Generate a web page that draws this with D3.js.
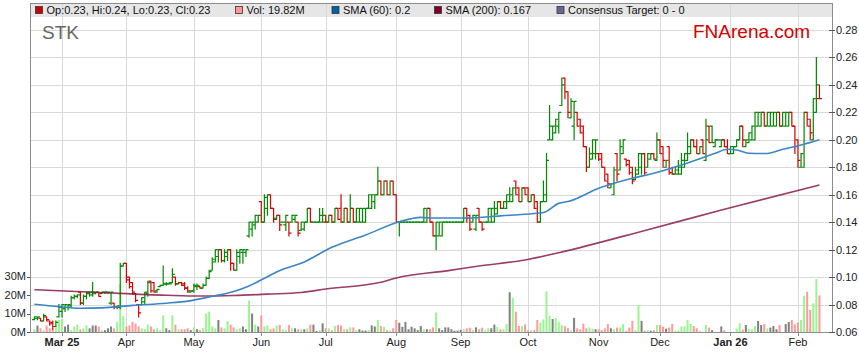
<!DOCTYPE html>
<html>
<head>
<meta charset="utf-8">
<script src="https://cdn.jsdelivr.net/npm/d3@7"></script>
<style>
body { margin: 0; background: #fff; }
text { font-family: "Liberation Sans", Arial, sans-serif; }
</style>
</head>
<body>
<div id="chart"></div>
<script>
// daily bars, first bar is Tue 18 Feb 2025, weekdays only
const opens = [
.069,.070,.070,.068,.071,.068,.067,.064,.071,.075,
.077,.078,.079,.085,.086,.089,.081,.086,.088,.087,
.088,.089,.088,.089,.089,.081,.081,.078,.078,.108,
.110,.100,.096,.088,.080,.080,.082,.088,.097,.096,
.090,.093,.094,.095,.095,.096,.100,.095,.096,.095,
.092,.089,.090,.093,.093,.092,.094,.099,.105,.111,
.115,.120,.112,.115,.120,.110,.105,.115,.118,.118,
.130,.135,.138,.140,.155,.140,.150,.160,.150,.143,
.145,.140,.138,.140,.140,.142,.140,.134,.135,.140,
.150,.140,.140,.140,.140,.140,.140,.145,.140,.150,
.150,.140,.150,.140,.150,.140,.140,.140,.140,.150,
.150,.155,.160,.170,.160,.170,.160,.170,.160,.140,
.140,.140,.140,.140,.140,.140,.140,.140,.140,.150,
.140,.130,.130,.130,.140,.140,.140,.140,.140,.140,
.140,.150,.145,.140,.135,.150,.140,.140,.140,.140,
.140,.146,.155,.150,.150,.155,.155,.170,.165,.155,
.165,.165,.155,.160,.155,.140,.155,.155,.200,.200,
.205,.210,.225,.245,.235,.216,.210,.220,.215,.210,
.195,.180,.186,.190,.190,.190,.180,.175,.165,.160,
.190,.178,.190,.186,.185,.180,.171,.175,.180,.190,
.180,.186,.190,.185,.200,.195,.180,.195,.176,.175,
.175,.175,.180,.185,.190,.200,.195,.190,.200,.185,
.210,.210,.195,.200,.195,.200,.195,.190,.190,.195,
.200,.210,.195,.198,.200,.200,.210,.210,.220,.210,
.210,.210,.210,.220,.210,.210,.210,.220,.210,.200,
.180,.180,.220,.210,.200,.220,.230]

const highs = [
.071,.071,.070,.073,.071,.068,.068,.068,.080,.080,
.080,.080,.086,.087,.087,.089,.087,.089,.089,.096,
.089,.089,.089,.089,.089,.089,.081,.079,.110,.110,
.110,.100,.096,.088,.080,.085,.089,.097,.097,.096,
.091,.094,.108,.096,.096,.106,.100,.096,.096,.096,
.093,.090,.095,.095,.093,.095,.100,.105,.114,.120,
.120,.120,.120,.120,.120,.110,.120,.120,.120,.120,
.140,.140,.145,.145,.155,.160,.160,.160,.150,.145,
.145,.140,.145,.140,.145,.145,.140,.140,.140,.150,
.150,.140,.140,.150,.150,.145,.145,.145,.150,.150,
.160,.150,.150,.160,.150,.150,.150,.150,.150,.160,
.160,.160,.180,.170,.170,.170,.170,.170,.160,.140,
.140,.140,.140,.140,.140,.140,.140,.150,.150,.150,
.140,.140,.140,.140,.140,.140,.140,.140,.140,.140,
.150,.150,.145,.145,.145,.150,.140,.140,.150,.150,
.155,.155,.155,.155,.160,.165,.165,.170,.165,.165,
.165,.165,.160,.160,.155,.155,.170,.190,.225,.210,
.215,.220,.245,.245,.235,.230,.228,.220,.215,.210,
.195,.194,.200,.200,.190,.190,.180,.175,.168,.180,
.190,.200,.200,.186,.185,.180,.180,.190,.190,.190,
.190,.190,.190,.205,.200,.195,.185,.195,.180,.180,
.185,.190,.190,.205,.200,.200,.200,.195,.200,.215,
.210,.210,.200,.200,.200,.200,.200,.195,.195,.200,
.210,.210,.200,.205,.210,.220,.220,.220,.220,.220,
.220,.220,.220,.220,.220,.220,.220,.220,.210,.200,
.190,.220,.220,.215,.230,.260,.240]

const lows = [
.069,.069,.068,.068,.068,.065,.062,.064,.071,.071,
.075,.076,.078,.084,.085,.080,.080,.084,.086,.086,
.088,.086,.088,.088,.088,.080,.077,.077,.077,.108,
.096,.092,.088,.082,.071,.080,.080,.086,.089,.089,
.089,.093,.094,.094,.095,.096,.094,.095,.094,.091,
.089,.089,.089,.091,.092,.092,.094,.099,.105,.111,
.111,.111,.111,.112,.105,.105,.105,.110,.110,.115,
.129,.130,.135,.140,.140,.140,.145,.150,.140,.142,
.134,.140,.134,.130,.140,.140,.130,.134,.134,.140,
.140,.140,.140,.140,.140,.140,.140,.140,.140,.142,
.140,.140,.140,.140,.140,.140,.140,.140,.140,.150,
.150,.150,.160,.160,.160,.160,.160,.160,.140,.130,
.140,.140,.140,.140,.140,.140,.140,.140,.140,.140,
.130,.120,.130,.130,.140,.140,.140,.140,.140,.140,
.140,.140,.134,.140,.134,.140,.134,.140,.140,.140,
.140,.146,.150,.150,.150,.155,.155,.160,.155,.155,
.160,.155,.155,.150,.140,.140,.155,.155,.200,.200,
.205,.205,.225,.230,.216,.216,.200,.210,.205,.195,
.177,.180,.186,.186,.185,.180,.170,.165,.165,.160,
.170,.178,.190,.181,.175,.168,.171,.175,.175,.175,
.180,.186,.186,.185,.190,.180,.180,.175,.175,.175,
.175,.175,.180,.185,.190,.195,.190,.190,.190,.185,
.198,.198,.195,.200,.195,.195,.190,.190,.190,.195,
.200,.195,.195,.198,.200,.200,.210,.210,.210,.210,
.210,.210,.210,.210,.210,.210,.210,.210,.190,.180,
.180,.180,.210,.200,.200,.220,.230]

const closes = [
.071,.071,.068,.072,.069,.066,.064,.067,.078,.080,
.080,.080,.085,.086,.087,.081,.086,.089,.089,.089,
.089,.086,.089,.089,.089,.089,.078,.079,.108,.110,
.098,.093,.089,.083,.074,.085,.089,.096,.090,.089,
.091,.094,.095,.095,.095,.102,.095,.096,.094,.092,
.090,.090,.094,.094,.092,.094,.099,.104,.113,.120,
.120,.112,.118,.120,.110,.105,.118,.120,.120,.120,
.140,.140,.145,.145,.140,.158,.160,.150,.142,.145,
.138,.140,.145,.132,.145,.145,.132,.140,.140,.150,
.140,.140,.140,.145,.145,.140,.145,.140,.150,.142,
.140,.150,.140,.150,.140,.150,.150,.150,.150,.160,
.160,.160,.170,.160,.170,.160,.170,.160,.140,.140,
.140,.140,.140,.140,.140,.140,.140,.150,.150,.140,
.130,.140,.140,.140,.140,.140,.140,.140,.140,.140,
.150,.143,.135,.145,.145,.140,.135,.140,.150,.150,
.150,.155,.150,.155,.160,.160,.165,.160,.155,.165,
.160,.155,.160,.150,.140,.155,.160,.185,.210,.210,
.215,.220,.240,.235,.220,.228,.228,.210,.205,.195,
.180,.190,.200,.200,.186,.180,.170,.168,.168,.178,
.175,.195,.200,.182,.176,.170,.178,.190,.190,.176,
.190,.190,.186,.200,.190,.185,.185,.176,.175,.178,
.180,.185,.190,.195,.200,.195,.190,.195,.190,.200,
.198,.198,.200,.200,.200,.195,.190,.195,.195,.200,
.210,.200,.200,.205,.210,.220,.220,.220,.210,.220,
.220,.220,.220,.210,.220,.220,.220,.210,.195,.185,
.190,.220,.215,.205,.230,.240,.230]

// volume in millions
const volumes = [
1.5,3.5,2,1,3.5,2,1.5,3,6.5,7,
3,4,1,3,4,1.5,2,3.5,2,3.5,
3.5,3,1,1,2,3,2,5.5,26,8.5,
3,3.5,5.5,4.5,3,2,1.5,4,3,1.5,
2,1,9,2,1,9,4,1.5,1.5,1.5,
2,1,2.5,1.5,1,2,10,11,3,2,
6.5,2.5,2,6,4,2.5,1.5,2,3,1.5,
17,10,4,3,9,3,3.5,1.5,2,3.5,
3.8,1.5,1,3.8,2,2,1.5,1.5,1.5,2,
4,4,0.5,1,4.7,2,2,1,3.2,3.8,
3.5,1.6,1.5,2.5,2.5,1,1.5,0.8,0.8,1.1,
3.6,3,6.5,3.2,2.8,1,0.8,2,6.5,5,
2.8,5.4,1.5,2.8,2,1,3.2,1.5,1.5,1.5,
2.5,10.5,2,1,2.5,2.5,1.5,0.7,0.8,1.2,
1.5,2,2.3,1.1,2.5,1.5,2.3,1,2,2,
4,2.8,1.5,1.5,4.3,21.5,18.5,11,3.2,3.2,
4.1,1,1,1,6.5,5,6.8,22,8.6,7,
7.5,5.5,3.8,3.2,2,1,7.7,2,1.5,4.5,
2,2.4,1.8,1.5,1.5,1,2,4.3,2,1.5,
2.4,2.4,4.3,0.5,2.4,6,1,14.6,6,0.7,
1,0.7,1,3.8,3.8,2.9,1.8,2.4,4.3,0.7,
0.7,3,3,6.5,4.3,3.2,2,0.7,0,3.8,
2.4,1,0,0,3,1,0,0,0,1.8,
4.7,1.3,3.8,1.7,1.5,3.2,6,3.8,4.3,2,
2.4,3.2,1.5,3.8,0,4.3,5.4,6.5,4.1,5.2,
6.5,19.6,21.8,11.9,15.5,28.6,19.82]

// moving averages, [bar index, value]
const sma60Idx = [0,8,15,22,32,43,50,58,65,70,76,81,87,97,108,119,126,130,141,152,163,166,171,174,184,195,201,211,222,226,229,233,239,244,250,256]
const sma60Val = [.0802,.0785,.0773,.0776,.0794,.081,.0825,.086,.0895,.0935,.1003,.1057,.11,.1217,.1307,.1403,.1435,.143,.143,.1446,.1463,.147,.1537,.155,.1647,.172,.1751,.1817,.1902,.1931,.1926,.1902,.19,.1931,.1962,.20]
const sma200Idx = [0,21,43,54,65,76,87,95,113,118,135,145,160,171,200,225,256]
const sma200Val = [.0908,.0888,.0868,.0862,.0866,.0876,.0888,.0913,.0962,.0994,.1047,.1081,.1125,.1178,.1345,.1494,.1671]

const priceTicks = [0.06,0.08,0.10,0.12,0.14,0.16,0.18,0.20,0.22,0.24,0.26,0.28]
const volTicks = [0,10,20,30]
const volLabels = ["0M","10M","20M","30M"]
const monthLabels = ["Mar 25","Apr","May","Jun","Jul","Aug","Sep","Oct","Nov","Dec","Jan 26","Feb"]

let W = 859, H = 363
let plotL = 30, plotR = 832, plotT = 3, plotB = 332

let svg = d3.select("#chart").append("svg")
svg.attr("width", W)
svg.attr("height", H)

let x = d3.scaleLinear().domain([-1.43, 260.1]).range([plotL, plotR])
let y = d3.scaleLinear().domain([0.06, 0.28]).range([plotB, 30])
let yv = d3.scaleLinear().domain([0, 30]).range([plotB, plotB - 55.5])

// trading days (weekdays) to find the month boundaries
let dates = []
let d = new Date(2025, 1, 18)
while (dates.length < closes.length) {
  if (d.getDay() != 0 && d.getDay() != 6) dates.push(new Date(d))
  d.setDate(d.getDate() + 1)
}
let monthStarts = []
dates.forEach(function (dt, i) {
  if (i > 0 && dt.getMonth() != dates[i - 1].getMonth()) monthStarts.push(i)
})

// legend band
svg.append("rect")
   .attr("x", plotL).attr("y", plotT)
   .attr("width", plotR - plotL).attr("height", 14)
   .style("fill", "#e6e6e6")

// grid
svg.selectAll(".hgrid").data(priceTicks.slice(1)).enter().append("line")
   .attr("x1", plotL).attr("x2", plotR)
   .attr("y1", function (t) { return Math.round(y(t)) + 0.5 })
   .attr("y2", function (t) { return Math.round(y(t)) + 0.5 })
   .style("stroke", "#d9d9d9")
svg.selectAll(".vgrid").data(monthStarts).enter().append("line")
   .attr("x1", function (i) { return Math.round(x(i)) + 0.5 })
   .attr("x2", function (i) { return Math.round(x(i)) + 0.5 })
   .attr("y1", plotT).attr("y2", plotB)
   .style("stroke", "#d9d9d9")

function prevClose(i) { return i > 0 ? closes[i - 1] : opens[i] }

// volume bars
svg.selectAll(".vol").data(volumes).enter().append("rect")
   .attr("x", function (v, i) { return x(i) - 1 })
   .attr("width", 2)
   .attr("y", function (v) { return yv(v) })
   .attr("height", function (v) { return plotB - yv(v) })
   .style("fill", function (v, i) {
     if (closes[i] > prevClose(i)) return "#99f58f"
     if (closes[i] < prevClose(i)) return "#ff9a9a"
     return "#808080"
   })

// price bars (OHLC)
svg.selectAll(".bar").data(closes).enter().append("path")
   .attr("d", function (c, i) {
     let cx = x(i)
     return "M" + cx + "," + (y(highs[i]) - 0.5) + "V" + (y(lows[i]) + 0.5) +
            "M" + (cx - 2.5) + "," + y(opens[i]) + "H" + cx +
            "M" + cx + "," + y(c) + "H" + (cx + 2.5)
   })
   .style("fill", "none")
   .style("stroke-width", 1.2)
   .style("stroke", function (c, i) { return c >= prevClose(i) ? "#008a00" : "#d80000" })

// moving averages
let line = d3.line()
   .x(function (p) { return x(p[0]) })
   .y(function (p) { return y(p[1]) })
   .curve(d3.curveMonotoneX)

svg.append("path")
   .attr("d", line(sma200Idx.map(function (i, k) { return [i, sma200Val[k]] })))
   .style("fill", "none").style("stroke", "#8a1c48").style("stroke-width", 1.6).style("opacity", 0.85)
svg.append("path")
   .attr("d", line(sma60Idx.map(function (i, k) { return [i, sma60Val[k]] })))
   .style("fill", "none").style("stroke", "#3a86c6").style("stroke-width", 1.6)

// frame
svg.append("rect")
   .attr("x", plotL + 0.5).attr("y", plotT + 0.5)
   .attr("width", plotR - plotL).attr("height", plotB - plotT)
   .style("fill", "none").style("stroke", "#8c8c8c")

// right price axis
svg.selectAll(".ptick").data(priceTicks).enter().append("line")
   .attr("x1", plotR - 3).attr("x2", plotR + 3)
   .attr("y1", function (t) { return Math.round(y(t)) + 0.5 })
   .attr("y2", function (t) { return Math.round(y(t)) + 0.5 })
   .style("stroke", "#555")
svg.selectAll(".plabel").data(priceTicks).enter().append("text")
   .attr("x", plotR + 4)
   .attr("y", function (t) { return y(t) })
   .attr("dy", "0.36em")
   .style("font-size", "11px").style("fill", "#222")
   .text(function (t) { return t.toFixed(2) })

// left volume axis
svg.selectAll(".vtick").data(volTicks).enter().append("line")
   .attr("x1", plotL - 3).attr("x2", plotL)
   .attr("y1", function (t) { return Math.round(yv(t)) + 0.5 })
   .attr("y2", function (t) { return Math.round(yv(t)) + 0.5 })
   .style("stroke", "#555")
svg.selectAll(".vlabel").data(volTicks).enter().append("text")
   .attr("x", plotL - 4)
   .attr("y", function (t) { return yv(t) })
   .attr("dy", "0.36em")
   .attr("text-anchor", "end")
   .style("font-size", "11px").style("fill", "#222")
   .text(function (t, k) { return volLabels[k] })

// bottom month axis
svg.selectAll(".mtick").data(monthStarts).enter().append("line")
   .attr("x1", function (i) { return Math.round(x(i)) + 0.5 })
   .attr("x2", function (i) { return Math.round(x(i)) + 0.5 })
   .attr("y1", plotB).attr("y2", plotB + 4)
   .style("stroke", "#8c8c8c")
svg.selectAll(".mlabel").data(monthStarts).enter().append("text")
   .attr("x", function (i) { return x(i) })
   .attr("y", plotB + 14)
   .attr("text-anchor", "middle")
   .style("font-size", "11px").style("fill", "#222")
   .style("font-weight", function (i, k) { return monthLabels[k].indexOf(" ") > 0 ? "bold" : "normal" })
   .text(function (i, k) { return monthLabels[k] })

// legend
let last = closes.length - 1
let legend = [
  { x: 35, color: "#cc0000", text: "Op:" + opens[last].toFixed(2) + ", Hi:" + highs[last].toFixed(2) + ", Lo:" + lows[last].toFixed(2) + ", Cl:" + closes[last].toFixed(2) },
  { x: 235, color: "#ff9999", text: "Vol: " + volumes[last].toFixed(2) + "M" },
  { x: 331.5, color: "#0065a8", text: "SMA (60): 0.2" },
  { x: 434, color: "#800030", text: "SMA (200): 0.167" },
  { x: 556.5, color: "#666699", text: "Consensus Target: 0 - 0" }
]
legend.forEach(function (item) {
  svg.append("rect")
     .attr("x", item.x + 0.5).attr("y", 6.5)
     .attr("width", 7).attr("height", 7)
     .style("fill", item.color).style("stroke", "#333").style("stroke-width", 0.8)
  svg.append("text")
     .attr("x", item.x + 11.5).attr("y", 14)
     .style("font-size", "11px").style("fill", "#111")
     .text(item.text)
})

// titles
svg.append("text")
   .attr("x", 42).attr("y", 39)
   .style("font-size", "19px").style("fill", "#666")
   .text("STK")
svg.append("text")
   .attr("x", 693).attr("y", 38)
   .style("font-size", "19px").style("fill", "#d40000")
   .text("FNArena.com")
</script>
</body>
</html>
